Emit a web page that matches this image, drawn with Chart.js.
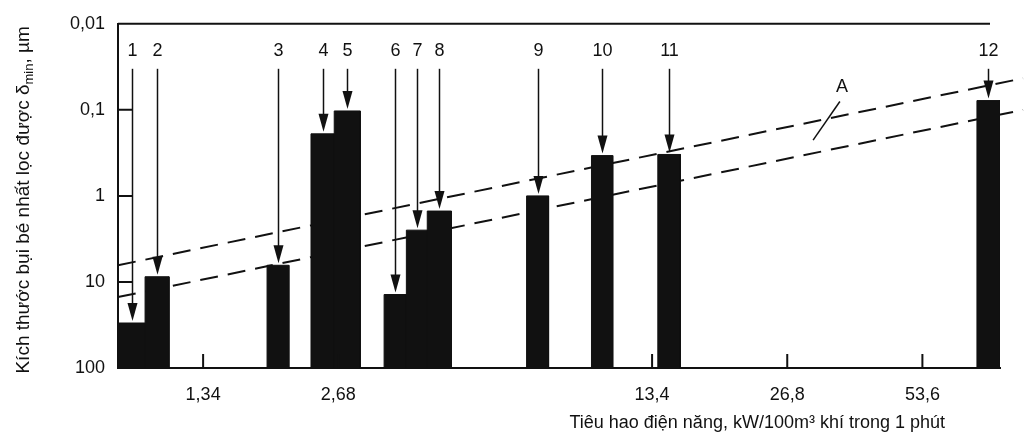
<!DOCTYPE html>
<html>
<head>
<meta charset="utf-8">
<script src="https://cdn.jsdelivr.net/npm/chart.js@4.4.1/dist/chart.umd.min.js"></script>
<style>
  html, body { margin: 0; padding: 0; background: #fff; }
  #wrap { width: 1030px; height: 440px; }
</style>
</head>
<body>
<div id="wrap"><canvas id="chart" width="1030" height="440"></canvas></div>
<script>
// filters 1..12: energy range (kW per 100 m3/min) and smallest dust caught (um)
const barNames = ["1", "2", "3", "4", "5", "6", "7", "8", "9", "10", "11", "12"];
const barLeft = [0.866, 0.995, 1.86, 2.33, 2.625, 3.39, 3.8, 4.23, 7.04, 9.82, 13.8, 70.9];
const barRight = [0.995, 1.125, 2.08, 2.625, 3.0, 3.8, 4.23, 4.79, 7.88, 10.95, 15.5, 79.8];
const barValue = [30, 8.7, 6.4, 0.19, 0.103, 14, 2.5, 1.5, 1.0, 0.34, 0.33, 0.078];

// the two dashed boundary lines
const upperX = [0.866, 89.8];
const upperY = [6.4, 0.043];
const lowerX = [0.866, 89.8];
const lowerY = [15, 0.1];

// leader line of the "A" label
const markX = [35.1, 30.6];
const markY = [0.08, 0.225];
const markLabel = "A";
const markLabelAt = [35.5, 0.054];

// axes
const xTicks = [1.34, 2.68, 13.4, 26.8, 53.6];
const xTickLabels = ["1,34", "2,68", "13,4", "26,8", "53,6"];
const yTicks = [0.01, 0.1, 1, 10, 100];
const yTickLabels = ["0,01", "0,1", "1", "10", "100"];
const xTitle = "Tiêu hao điện năng, kW/100m³ khí trong 1 phút";
const yTitle = ["Kích thước bụi bé nhất lọc được δ", "min", ", µm"];

const ink = "#111";
const fontName = "'Liberation Sans', Arial, sans-serif";

function pts(xv, yv) {
  return xv.map((x, i) => ({ x: x, y: yv[i] }));
}

// outline of the bars as one filled skyline
var skyline = [];
for (var i = 0; i < barNames.length; i++) {
  skyline.push({ x: barLeft[i], y: 100 });
  skyline.push({ x: barLeft[i], y: barValue[i] });
  skyline.push({ x: barRight[i], y: barValue[i] });
  skyline.push({ x: barRight[i], y: 100 });
}

const decor = {
  id: "decor",
  afterDatasetsDraw(chart) {
    const ctx = chart.ctx;
    const area = chart.chartArea;
    const xs = chart.scales.x;
    const ys = chart.scales.y;
    ctx.save();
    ctx.strokeStyle = ink;
    ctx.fillStyle = ink;

    // top frame line, stops a little short of the right end
    ctx.lineWidth = 2;
    ctx.beginPath();
    ctx.moveTo(area.left, area.top);
    ctx.lineTo(area.right - 10, area.top);
    ctx.stroke();

    // tick marks drawn inside the frame
    ctx.beginPath();
    yTicks.slice(1, -1).forEach((v) => {
      const py = ys.getPixelForValue(v);
      ctx.moveTo(area.left, py);
      ctx.lineTo(area.left + 15, py);
    });
    xTicks.forEach((v) => {
      const px = xs.getPixelForValue(v);
      ctx.moveTo(px, area.bottom);
      ctx.lineTo(px, area.bottom - 14);
    });
    ctx.stroke();

    // numbered arrows pointing at each bar
    ctx.font = "18px " + fontName;
    ctx.textAlign = "center";
    ctx.textBaseline = "middle";
    barNames.forEach((name, i) => {
      const px = Math.round(xs.getPixelForValue(Math.sqrt(barLeft[i] * barRight[i]))) + 0.5;
      const tip = ys.getPixelForValue(barValue[i]) - 2;
      ctx.fillText(name, px, area.top + 27);
      ctx.lineWidth = 1.5;
      ctx.beginPath();
      ctx.moveTo(px, area.top + 45);
      ctx.lineTo(px, tip - 14);
      ctx.stroke();
      ctx.beginPath();
      ctx.moveTo(px, tip);
      ctx.lineTo(px - 5, tip - 18);
      ctx.lineTo(px + 5, tip - 18);
      ctx.closePath();
      ctx.fill();
    });

    ctx.fillText(markLabel, xs.getPixelForValue(markLabelAt[0]), ys.getPixelForValue(markLabelAt[1]));
    ctx.restore();
  },
  afterDraw(chart) {
    const ctx = chart.ctx;
    const area = chart.chartArea;
    ctx.save();
    ctx.fillStyle = ink;

    // x title, ends a bit left of the frame
    ctx.font = "18px " + fontName;
    ctx.textAlign = "right";
    ctx.textBaseline = "alphabetic";
    ctx.fillText(xTitle, area.right - 55, chart.height - 12);

    // y title with subscript
    const sizes = [19, 13, 19];
    const drops = [0, 4, 0];
    var widths = yTitle.map((t, k) => {
      ctx.font = sizes[k] + "px " + fontName;
      return ctx.measureText(t).width;
    });
    var total = widths.reduce((a, b) => a + b, 0);
    ctx.translate(29, (area.top + area.bottom) / 2 + 4);
    ctx.rotate(-Math.PI / 2);
    ctx.textAlign = "left";
    var cx = -total / 2;
    yTitle.forEach((t, k) => {
      ctx.font = sizes[k] + "px " + fontName;
      ctx.fillText(t, cx, drops[k]);
      cx += widths[k];
    });
    ctx.restore();
  },
};

new Chart(document.getElementById("chart"), {
  type: "line",
  data: {
    datasets: [
      {
        data: skyline,
        borderColor: ink,
        backgroundColor: ink,
        borderWidth: 1,
        fill: "start",
        pointRadius: 0,
        tension: 0,
      },
      {
        data: pts(upperX, upperY),
        borderColor: ink,
        borderWidth: 2,
        borderDash: [18, 10],
        pointRadius: 0,
        fill: false,
        clip: false,
      },
      {
        data: pts(lowerX, lowerY),
        borderColor: ink,
        borderWidth: 2,
        borderDash: [18, 10],
        pointRadius: 0,
        fill: false,
        clip: false,
      },
      {
        data: pts(markX, markY),
        borderColor: ink,
        borderWidth: 1.5,
        pointRadius: 0,
        fill: false,
      },
    ],
  },
  options: {
    responsive: false,
    animation: false,
    layout: { padding: { left: 0, right: 30, top: 13, bottom: 0 } },
    plugins: {
      legend: { display: false },
      tooltip: { enabled: false },
    },
    scales: {
      x: {
        type: "logarithmic",
        position: "bottom",
        min: 0.866,
        max: 79.8,
        afterBuildTicks: (s) => {
          s.ticks = xTicks.map((v) => ({ value: v }));
        },
        afterFit: (s) => {
          s.height = 72;
        },
        grid: { drawOnChartArea: false, drawTicks: false },
        border: { display: true, color: ink, width: 2 },
        ticks: {
          autoSkip: false,
          maxRotation: 0,
          padding: 16,
          color: ink,
          font: { family: fontName, size: 18 },
          callback: (v, i) => xTickLabels[i],
        },
      },
      y: {
        type: "logarithmic",
        reverse: true,
        min: 0.01,
        max: 100,
        afterBuildTicks: (s) => {
          s.ticks = yTicks.map((v) => ({ value: v }));
        },
        afterFit: (s) => {
          s.width = 118;
        },
        grid: { drawOnChartArea: false, drawTicks: false },
        border: { display: true, color: ink, width: 2 },
        ticks: {
          padding: 13,
          color: ink,
          font: { family: fontName, size: 18 },
          callback: (v, i) => yTickLabels[i],
        },
      },
    },
  },
  plugins: [decor],
});
</script>
</body>
</html>
